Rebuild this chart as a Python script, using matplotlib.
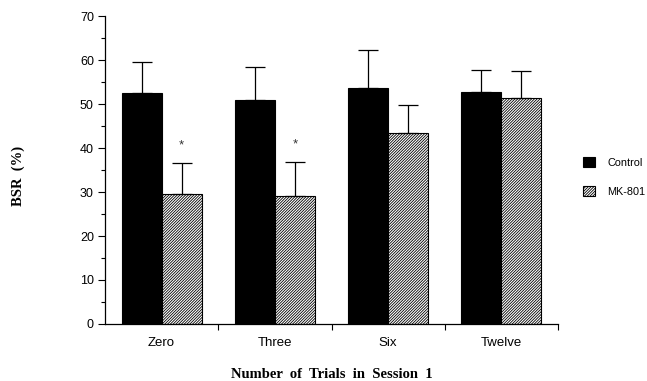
import matplotlib
matplotlib.use("Agg")
import matplotlib.pyplot as plt
import numpy as np

categories = ["Zero", "Three", "Six", "Twelve"]
control_mean = [52.5, 50.8, 53.6, 52.8]
control_err = [7.0, 7.5, 8.7, 5.0]
mk801_mean = [29.5, 29.2, 43.3, 51.3]
mk801_err = [7.0, 7.6, 6.5, 6.2]
significant = [True, True, False, False]

plt.rcParams['hatch.linewidth'] = 0.6
fig = plt.figure(figsize=(6.47, 3.81), dpi=100)
W, H = 647, 381
ax = fig.add_axes([105 / W, 1 - 324 / H, (558 - 105) / W, (324 - 16) / H])

x = np.arange(len(categories))
bw = 0.354
off = bw / 2
bc = ax.bar(x - off, control_mean, bw, color="black", edgecolor="black", linewidth=0.8, label="Control")
bm = ax.bar(x + off, mk801_mean, bw, color="white", edgecolor="black", hatch="////////////",
            linewidth=0.8, label="MK-801")
ax.errorbar(x - off, control_mean, yerr=[np.zeros(4), control_err], fmt="none", ecolor="black",
            elinewidth=0.9, capsize=7.5, capthick=0.9)
ax.errorbar(x + off, mk801_mean, yerr=[np.zeros(4), mk801_err], fmt="none", ecolor="black",
            elinewidth=0.9, capsize=7.5, capthick=0.9)
for i, s in enumerate(significant):
    if s:
        ax.text(x[i] + off, mk801_mean[i] + mk801_err[i] + 4.0, "*", ha="center", va="center",
                fontsize=9.5, family="Liberation Sans", color="#333333")

ax.set_xlim(-0.5, 3.5)
ax.set_ylim(0, 70)
ax.spines["top"].set_visible(False)
ax.spines["right"].set_visible(False)
for s in ["left", "bottom"]:
    ax.spines[s].set_linewidth(0.9)

ax.set_yticks(np.arange(0, 71, 10))
ax.set_yticks(np.arange(0, 71, 5), minor=True)
ax.tick_params(axis="y", which="major", length=5, width=0.8, direction="out", labelsize=9, pad=3)
ax.tick_params(axis="y", which="minor", length=3, width=0.8, direction="out")
ax.set_xticks(x)
ax.set_xticklabels(categories)
ax.set_xticks([0.5, 1.5, 2.5, 3.5], minor=True)
ax.tick_params(axis="x", which="major", length=0, labelsize=9.5, pad=9)
ax.tick_params(axis="x", which="minor", length=4, width=0.8, direction="out")
for lab in ax.get_xticklabels() + ax.get_yticklabels():
    lab.set_family("Liberation Sans")

fig.text(18 / W, 1 - 176 / H, "BSR  (%)", rotation=90, ha="center", va="center",
         family="Liberation Serif", fontweight="bold", fontsize=10.5)
fig.text(332 / W, 1 - 375 / H, "Number  of  Trials  in  Session  1", ha="center", va="center",
         family="Liberation Serif", fontweight="bold", fontsize=10.5)

leg = fig.legend(handles=[bc, bm], loc="center left", bbox_to_anchor=(573 / W, 1 - 177 / H),
                 frameon=False, handlelength=1.15, handleheight=1.0,
                 labelspacing=1.7, handletextpad=1.1, prop={"family": "Liberation Sans", "size": 7.8})

fig.savefig("out.png", dpi=100)
